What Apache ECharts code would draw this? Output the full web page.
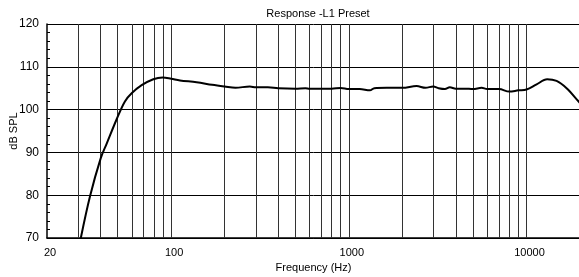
<!DOCTYPE html>
<html>
<head>
<meta charset="utf-8">
<script src="https://cdn.jsdelivr.net/npm/echarts@6/dist/echarts.min.js"></script>
<style>
  html, body { margin: 0; padding: 0; background: #fff; }
  #main { width: 579px; height: 277px; }
</style>
</head>
<body>
<div id="main"></div>
<script>
// frequency response
var freqs = [31, 34.9, 40.1, 43.3, 49.4, 54.9, 59.9, 68.2, 79.3, 89.6, 100, 112, 139, 170,
  200, 230, 277, 300, 350, 400, 500, 570, 600, 700, 800, 900, 1000, 1150, 1315, 1390, 1632,
  2000, 2405, 2700, 2985, 3200, 3475, 3700, 4000, 4500, 5000, 5590, 6000, 7000, 8000, 9000,
  10000, 11400, 13070, 14760, 16810, 19540, 20000];
var spl = [70, 79.7, 88.6, 92.0, 97.8, 101.9, 103.8, 105.7, 107.1, 107.5, 107.2, 106.8, 106.4, 105.8,
  105.4, 105.1, 105.4, 105.2, 105.2, 105.0, 104.9, 105.0, 104.9, 104.9, 104.9, 105.05, 104.8, 104.8, 104.5, 105.0, 105.1,
  105.1, 105.5, 105.1, 105.4, 105.0, 104.8, 105.2, 104.9, 104.9, 104.8, 105.1, 104.8, 104.8, 104.2, 104.5,
  104.7, 105.9, 107.1, 106.7, 105.0, 102.0, 101.5];

// vertical grid lines at 30..90, 100..900, ...
var gridFreqs = [];
[10, 100, 1000].forEach(function (d) {
  for (var k = 1; k <= 9; k++) {
    var f = k * d;
    if (f > 20) gridFreqs.push(f);
  }
});
gridFreqs.push(10000);

var yTicks = { min: 70, max: 120, step: 10 };
var FONT = '"Liberation Sans", Arial, sans-serif';

var chart = echarts.init(document.getElementById('main'), null, { renderer: 'canvas' });

chart.setOption({
  animation: false,
  backgroundColor: '#fff',
  title: {
    text: 'Response -L1 Preset',
    left: 313,
    top: 3,
    textAlign: 'center',
    textStyle: { fontFamily: FONT, fontSize: 11, fontWeight: 'normal', color: '#000' }
  },
  grid: { left: 47, right: -1, top: 24, bottom: 39, outerBoundsMode: 'none', containLabel: false },
  xAxis: {
    type: 'log',
    logBase: 10,
    min: 20,
    max: 20000,
    name: 'Frequency (Hz)',
    nameLocation: 'middle',
    nameGap: 20,
    nameTextStyle: { fontFamily: FONT, fontSize: 11, color: '#000' },
    axisLine: { show: true, lineStyle: { color: '#000', width: 1.5 } },
    axisTick: { show: false },
    splitLine: { show: false },
    axisLabel: {
      show: true,
      showMaxLabel: false,
      margin: 9,
      padding: [0, 0, 0, 6],
      fontFamily: FONT,
      fontSize: 11,
      color: '#000',
      formatter: function (v) { return String(Math.round(v)); }
    }
  },
  yAxis: {
    type: 'value',
    min: yTicks.min,
    max: yTicks.max,
    interval: yTicks.step,
    name: 'dB SPL',
    nameLocation: 'middle',
    nameGap: 28,
    nameMoveOverlap: false,
    nameTextStyle: { fontFamily: FONT, fontSize: 11, color: '#000' },
    axisLine: { show: true, lineStyle: { color: '#000', width: 1.5 } },
    axisTick: { show: true, inside: true, length: 3, lineStyle: { color: '#000' } },
    minorTick: { show: true, splitNumber: 5, length: 3, lineStyle: { color: '#000', width: 1 } },
    splitLine: { show: true, lineStyle: { color: '#000', width: 1 } },
    axisLabel: { margin: 8, fontFamily: FONT, fontSize: 12, color: '#000' }
  },
  series: [{
    type: 'line',
    data: freqs.map(function (f, i) { return [f, spl[i]]; }),
    smooth: 0.35,
    showSymbol: false,
    lineStyle: { color: '#000', width: 2 },
    z: 5,
    markLine: {
      silent: true,
      symbol: 'none',
      label: { show: false },
      lineStyle: { color: '#333', width: 1, type: 'solid' },
      data: gridFreqs.map(function (f) { return { xAxis: f }; }),
      z: 1
    }
  }]
});
</script>
</body>
</html>
